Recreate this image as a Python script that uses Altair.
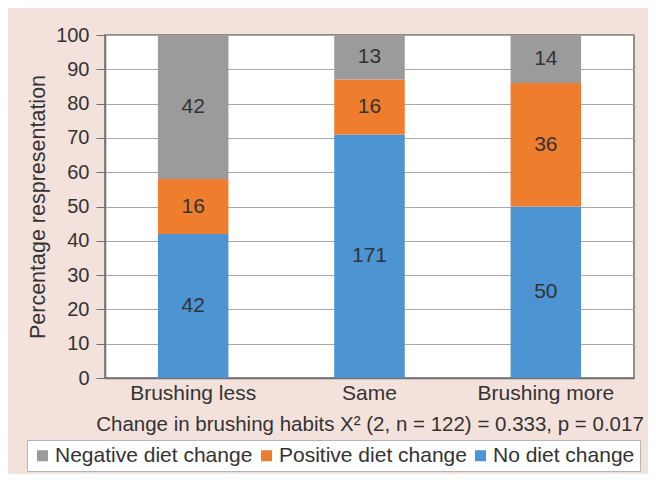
import altair as alt
import pandas as pd

categories = ["Brushing less", "Same", "Brushing more"]
series = ["Negative diet change", "Positive diet change", "No diet change"]
# percentage heights per series, in category order
negative_pct = [42, 13, 14]
positive_pct = [16, 16, 36]
none_pct = [42, 71, 50]
# labels as printed on the bars
negative_lbl = ["42", "13", "14"]
positive_lbl = ["16", "16", "36"]
none_lbl = ["42", "171", "50"]
colors = ["#9b9b9b", "#ee7d2e", "#4d94d3"]
y_ticks = [0, 10, 20, 30, 40, 50, 60, 70, 80, 90, 100]

rows = []
for i, c in enumerate(categories):
    rows.append(dict(cat=c, series=series[2], pct=none_pct[i], lbl=none_lbl[i], order=0))
    rows.append(dict(cat=c, series=series[1], pct=positive_pct[i], lbl=positive_lbl[i], order=1))
    rows.append(dict(cat=c, series=series[0], pct=negative_pct[i], lbl=negative_lbl[i], order=2))
df = pd.DataFrame(rows)

FONT = "Liberation Sans"
TXT = "#333333"

base = alt.Chart(df).transform_stack(
    stack="pct", as_=["y0", "y1"], groupby=["cat"], sort=[alt.SortField("order")]
).transform_calculate(mid="(datum.y0 + datum.y1) / 2")

x_scale = alt.Scale(paddingInner=0.6, paddingOuter=0.3)
x_axis = alt.Axis(title="Change in brushing habits X² (2, n = 122) = 0.333, p = 0.017",
                  labelAngle=0, ticks=False, labelFontSize=21, titleFontSize=20.5,
                  labelColor=TXT, titleColor=TXT, titleFontWeight="normal",
                  labelPadding=4, titlePadding=11, domainColor="#6f6f6f", domainWidth=1.5,
                  labelFont=FONT, titleFont=FONT, labelLimit=0)
y_scale = alt.Scale(domain=[0, 100], nice=False)
y_axis = alt.Axis(title="Percentage respresentation", values=y_ticks, tickCount=20,
                  labelOverlap=False, tickSize=9,
                  tickColor="#6f6f6f", domainColor="#6f6f6f", domainWidth=1.5,
                  gridColor="#a8a8a8", gridWidth=1.2, labelFontSize=20,
                  titleFontSize=21.5, labelColor=TXT, titleColor=TXT,
                  titleFontWeight="normal", labelPadding=7, titlePadding=6,
                  labelFont=FONT, titleFont=FONT)

bars = base.mark_bar().encode(
    x=alt.X("cat:N", sort=categories, scale=x_scale, axis=x_axis),
    y=alt.Y("y0:Q", scale=y_scale, axis=y_axis),
    y2="y1:Q",
    color=alt.Color("series:N", scale=alt.Scale(domain=series, range=colors),
                    legend=alt.Legend(title=None, orient="none", direction="horizontal",
                                      legendX=-78, legendY=405, symbolType="square",
                                      symbolSize=121, symbolStrokeWidth=0,
                                      labelFontSize=21, labelColor=TXT, labelFont=FONT,
                                      labelLimit=0,
                                      fillColor="white", strokeColor="#b5b5b5",
                                      padding=5, columnPadding=3, labelOffset=2,
                                      symbolOffset=0)),
)

labels = base.mark_text(fontSize=21, color=TXT, font=FONT).encode(
    x=alt.X("cat:N", sort=categories, scale=x_scale, axis=x_axis),
    y=alt.Y("mid:Q", scale=y_scale, axis=y_axis),
    text="lbl:N",
)

chart = alt.layer(bars, labels).properties(
    width=529, height=343,
    padding={"left": 97, "top": 27, "right": 14, "bottom": 96},
    autosize=alt.AutoSizeParams(type="none"),
    background="#f3e2dc",
).configure_view(fill="white", stroke="#6f6f6f", strokeWidth=1.5
).configure_axisY(tickCount=20)

chart.save("out.html", embed_options={"renderer": "svg", "actions": False})
